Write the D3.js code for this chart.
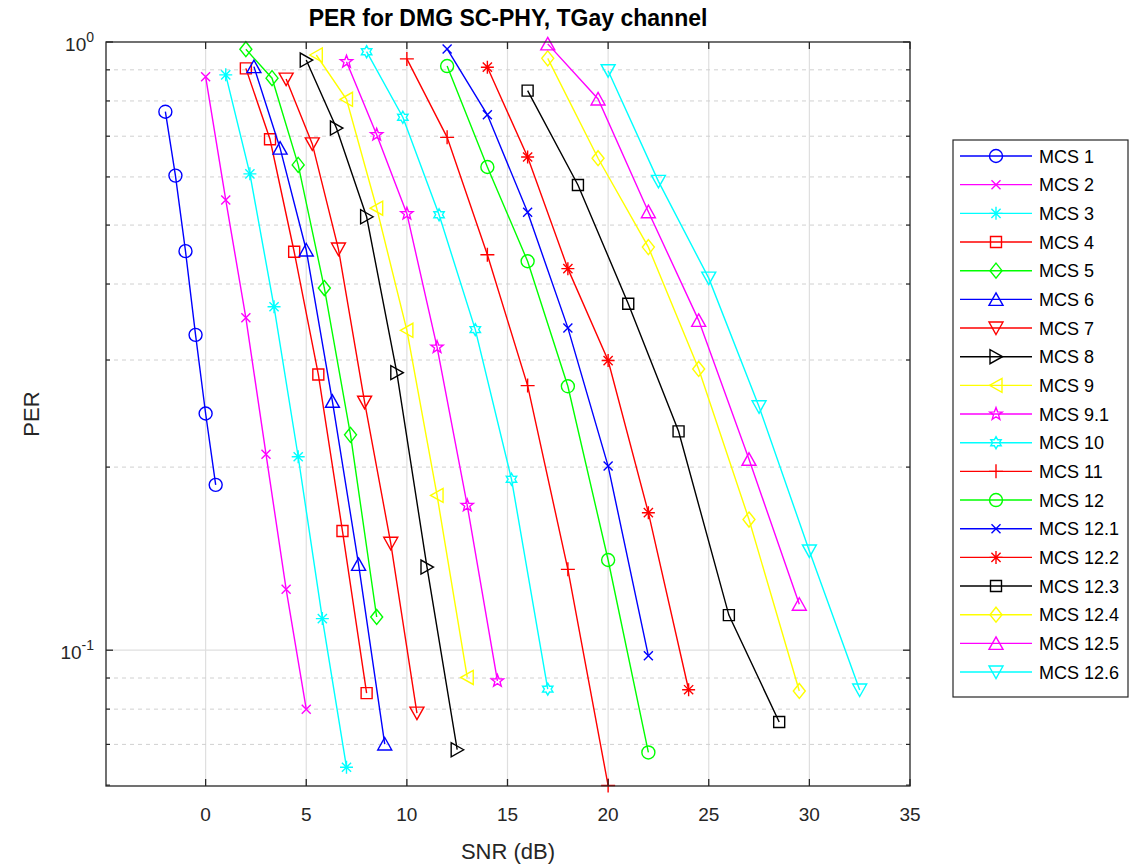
<!DOCTYPE html>
<html><head><meta charset="utf-8">
<script src="https://cdn.jsdelivr.net/npm/d3@7"></script>
<style>body{margin:0;background:#fff;} text{font-family:"Liberation Sans",Arial,Helvetica,sans-serif;}</style>
</head><body><svg id="c" width="1138" height="865"></svg>
<script>
// ---- data ----
const seriesNames = ["MCS 1","MCS 2","MCS 3","MCS 4","MCS 5","MCS 6","MCS 7","MCS 8","MCS 9","MCS 9.1","MCS 10","MCS 11","MCS 12","MCS 12.1","MCS 12.2","MCS 12.3","MCS 12.4","MCS 12.5","MCS 12.6"];
const seriesColors = ["#0000ff","#ff00ff","#00ffff","#ff0000","#00ff00","#0000ff","#ff0000","#000000","#ffff00","#ff00ff","#00ffff","#ff0000","#00ff00","#0000ff","#ff0000","#000000","#ffff00","#ff00ff","#00ffff"];
const seriesMarkers = ["o","x","*","s","d","^","v",">","<","p","h","+","o","x","*","s","d","^","v"];
const snrValues = [
  [-2,-1.5,-1,-0.5,0,0.5],
  [0,1,2,3,4,5],
  [1,2.2,3.4,4.6,5.8,7],
  [2,3.2,4.4,5.6,6.8,8],
  [2,3.3,4.6,5.9,7.2,8.5],
  [2.4,3.7,5.0,6.3,7.6,8.9],
  [4,5.3,6.6,7.9,9.2,10.5],
  [5,6.5,8,9.5,11,12.5],
  [5.5,7,8.5,10,11.5,13],
  [7,8.5,10,11.5,13,14.5],
  [8,9.8,11.6,13.4,15.2,17],
  [10,12,14,16,18,20],
  [12,14,16,18,20,22],
  [12,14,16,18,20,22],
  [14,16,18,20,22,24],
  [16,18.5,21,23.5,26,28.5],
  [17,19.5,22,24.5,27,29.5],
  [17,19.5,22,24.5,27,29.5],
  [20,22.5,25,27.5,30,32.5]
];
const perValues = [
  [0.768,0.603,0.453,0.330,0.245,0.187],
  [0.877,0.550,0.352,0.210,0.126,0.080],
  [0.883,0.607,0.367,0.208,0.1127,0.0642],
  [0.905,0.692,0.452,0.284,0.157,0.085],
  [0.973,0.872,0.628,0.394,0.226,0.1134],
  [0.911,0.669,0.455,0.2566,0.1384,0.0701],
  [0.869,0.680,0.4566,0.2557,0.1499,0.0788],
  [0.934,0.722,0.516,0.286,0.137,0.0686],
  [0.952,0.805,0.533,0.3357,0.1797,0.0902],
  [0.928,0.704,0.522,0.315,0.173,0.089],
  [0.964,0.752,0.520,0.3366,0.191,0.0863],
  [0.938,0.697,0.447,0.2723,0.1358,0.0599],
  [0.913,0.623,0.436,0.2716,0.1407,0.0679],
  [0.974,0.759,0.525,0.3388,0.2008,0.0979],
  [0.909,0.647,0.424,0.2994,0.1683,0.0861],
  [0.832,0.582,0.3713,0.229,0.1142,0.0762],
  [0.940,0.644,0.460,0.290,0.164,0.0857],
  [0.993,0.806,0.526,0.3486,0.206,0.119],
  [0.897,0.590,0.409,0.2513,0.1456,0.086]
];
const xTicks = [0,5,10,15,20,25,30,35];
const yMajorTicks = [1,0.1];
const yMajorLabels = [["10","0"],["10","-1"]];
const yMinorTicks = [0.9,0.8,0.7,0.6,0.5,0.4,0.3,0.2,0.09,0.08,0.07,0.06];
const titleText = "PER for DMG SC-PHY, TGay channel";
const xLabel = "SNR (dB)";
const yLabel = "PER";

// ---- layout ----
const L=106, R=910, T=42, B=786;
const svg = d3.select("#c");
const x = d3.scaleLinear().domain([-4.95,35]).range([L,R]);
const y = d3.scaleLog().domain([0.0598,1]).range([B,T]);
const axisCol = "#262626";

// grid
const g = svg.append("g");
g.selectAll(".xg").data(xTicks.filter(t=>t<35)).enter().append("line")
  .attr("x1",d=>x(d)).attr("x2",d=>x(d)).attr("y1",T).attr("y2",B)
  .attr("stroke","#dfdfdf").attr("stroke-width",1.2);
g.selectAll(".yg").data(yMajorTicks.filter(t=>t<1)).enter().append("line")
  .attr("x1",L).attr("x2",R).attr("y1",d=>y(d)).attr("y2",d=>y(d))
  .attr("stroke","#dfdfdf").attr("stroke-width",1.2);
g.selectAll(".ym").data(yMinorTicks.filter(t=>y(t)<B-1)).enter().append("line")
  .attr("x1",L).attr("x2",R).attr("y1",d=>y(d)).attr("y2",d=>y(d))
  .attr("stroke","#d0d0d0").attr("stroke-width",1).attr("stroke-dasharray","4,4");

// marker shapes
function starPath(n, ro, ri){
  let p=""; for(let i=0;i<2*n;i++){const r=i%2?ri:ro; const a=-Math.PI/2+i*Math.PI/n;
    p+=(i?"L":"M")+(r*Math.cos(a)).toFixed(2)+","+(r*Math.sin(a)).toFixed(2);} return p+"Z";
}
const markerPath = {
  "o": "M6.5,0A6.5,6.5 0 1,1 -6.5,0A6.5,6.5 0 1,1 6.5,0Z",
  "x": "M-4.5,-4.5L4.5,4.5M-4.5,4.5L4.5,-4.5",
  "*": "M-6.5,0L6.5,0M0,-6.5L0,6.5M-4.6,-4.6L4.6,4.6M-4.6,4.6L4.6,-4.6",
  "+": "M-7,0L7,0M0,-7L0,7",
  "s": "M-5.5,-5.5L5.5,-5.5L5.5,5.5L-5.5,5.5Z",
  "d": "M0,-7.5L6,0L0,7.5L-6,0Z",
  "^": "M0,-6.5L7,6L-7,6Z",
  "v": "M0,6.5L7,-6L-7,-6Z",
  ">": "M6.5,0L-6,-7L-6,7Z",
  "<": "M-6.5,0L6,-7L6,7Z",
  "p": starPath(5,6.5,2.7),
  "h": starPath(6,6,3.4)
};

// series
const line = d3.line().x(d=>x(d[0])).y(d=>y(d[1]));
const plot = svg.append("g");
seriesNames.forEach((name,i)=>{
  const pts = snrValues[i].map((s,j)=>[s,perValues[i][j]]);
  const sg = plot.append("g");
  sg.append("path").attr("d",line(pts)).attr("fill","none")
    .attr("stroke",seriesColors[i]).attr("stroke-width",1.4);
  sg.selectAll("path.m").data(pts).enter().append("path").attr("class","m")
    .attr("d",markerPath[seriesMarkers[i]])
    .attr("transform",d=>`translate(${x(d[0])},${y(d[1])})`)
    .attr("fill","none").attr("stroke",seriesColors[i]).attr("stroke-width",1.4);
});

// axes box
const ax = svg.append("g");
ax.append("rect").attr("x",L).attr("y",T).attr("width",R-L).attr("height",B-T)
  .attr("fill","none").attr("stroke",axisCol).attr("stroke-width",1.3);
xTicks.forEach(t=>{
  ax.append("line").attr("x1",x(t)).attr("x2",x(t)).attr("y1",B).attr("y2",B-7).attr("stroke",axisCol).attr("stroke-width",1.3);
  ax.append("line").attr("x1",x(t)).attr("x2",x(t)).attr("y1",T).attr("y2",T+7).attr("stroke",axisCol).attr("stroke-width",1.3);
  ax.append("text").attr("x",x(t)).attr("y",B+35).attr("text-anchor","middle")
    .attr("font-size",19).attr("fill",axisCol).text(t);
});
yMajorTicks.forEach((t,i)=>{
  ax.append("line").attr("x1",L).attr("x2",L+7).attr("y1",y(t)).attr("y2",y(t)).attr("stroke",axisCol).attr("stroke-width",1.3);
  ax.append("line").attr("x1",R).attr("x2",R-7).attr("y1",y(t)).attr("y2",y(t)).attr("stroke",axisCol).attr("stroke-width",1.3);
  const tx = ax.append("text").attr("x",L-12).attr("y",y(t)+9).attr("text-anchor","end")
    .attr("font-size",19).attr("fill",axisCol);
  tx.append("tspan").text(yMajorLabels[i][0]);
  tx.append("tspan").attr("dy",-9).attr("font-size",14).text(yMajorLabels[i][1]);
});
yMinorTicks.forEach(t=>{
  ax.append("line").attr("x1",L).attr("x2",L+4).attr("y1",y(t)).attr("y2",y(t)).attr("stroke",axisCol).attr("stroke-width",1.2);
  ax.append("line").attr("x1",R).attr("x2",R-4).attr("y1",y(t)).attr("y2",y(t)).attr("stroke",axisCol).attr("stroke-width",1.2);
});

// labels
svg.append("text").attr("x",(L+R)/2).attr("y",26).attr("text-anchor","middle")
  .attr("font-size",23).attr("font-weight","bold").attr("fill","#000").text(titleText);
svg.append("text").attr("x",(L+R)/2).attr("y",859).attr("text-anchor","middle")
  .attr("font-size",22).attr("fill",axisCol).text(xLabel);
svg.append("text").attr("transform",`translate(39,${(T+B)/2}) rotate(-90)`).attr("text-anchor","middle")
  .attr("font-size",22).attr("fill",axisCol).text(yLabel);

// legend
const lg = svg.append("g");
const LX=953, LY=140, LW=175, LH=557, rowH=28.67, row0=156;
lg.append("rect").attr("x",LX).attr("y",LY).attr("width",LW).attr("height",LH)
  .attr("fill","#fff").attr("stroke",axisCol).attr("stroke-width",1.2);
seriesNames.forEach((name,i)=>{
  const yy=row0+i*rowH;
  lg.append("line").attr("x1",960).attr("x2",1032).attr("y1",yy).attr("y2",yy)
    .attr("stroke",seriesColors[i]).attr("stroke-width",1.4);
  lg.append("path").attr("d",markerPath[seriesMarkers[i]]).attr("transform",`translate(996,${yy})`)
    .attr("fill","none").attr("stroke",seriesColors[i]).attr("stroke-width",1.4);
  lg.append("text").attr("x",1039).attr("y",yy+6.5).attr("font-size",18).attr("fill","#000").text(name);
});
</script></body></html>
